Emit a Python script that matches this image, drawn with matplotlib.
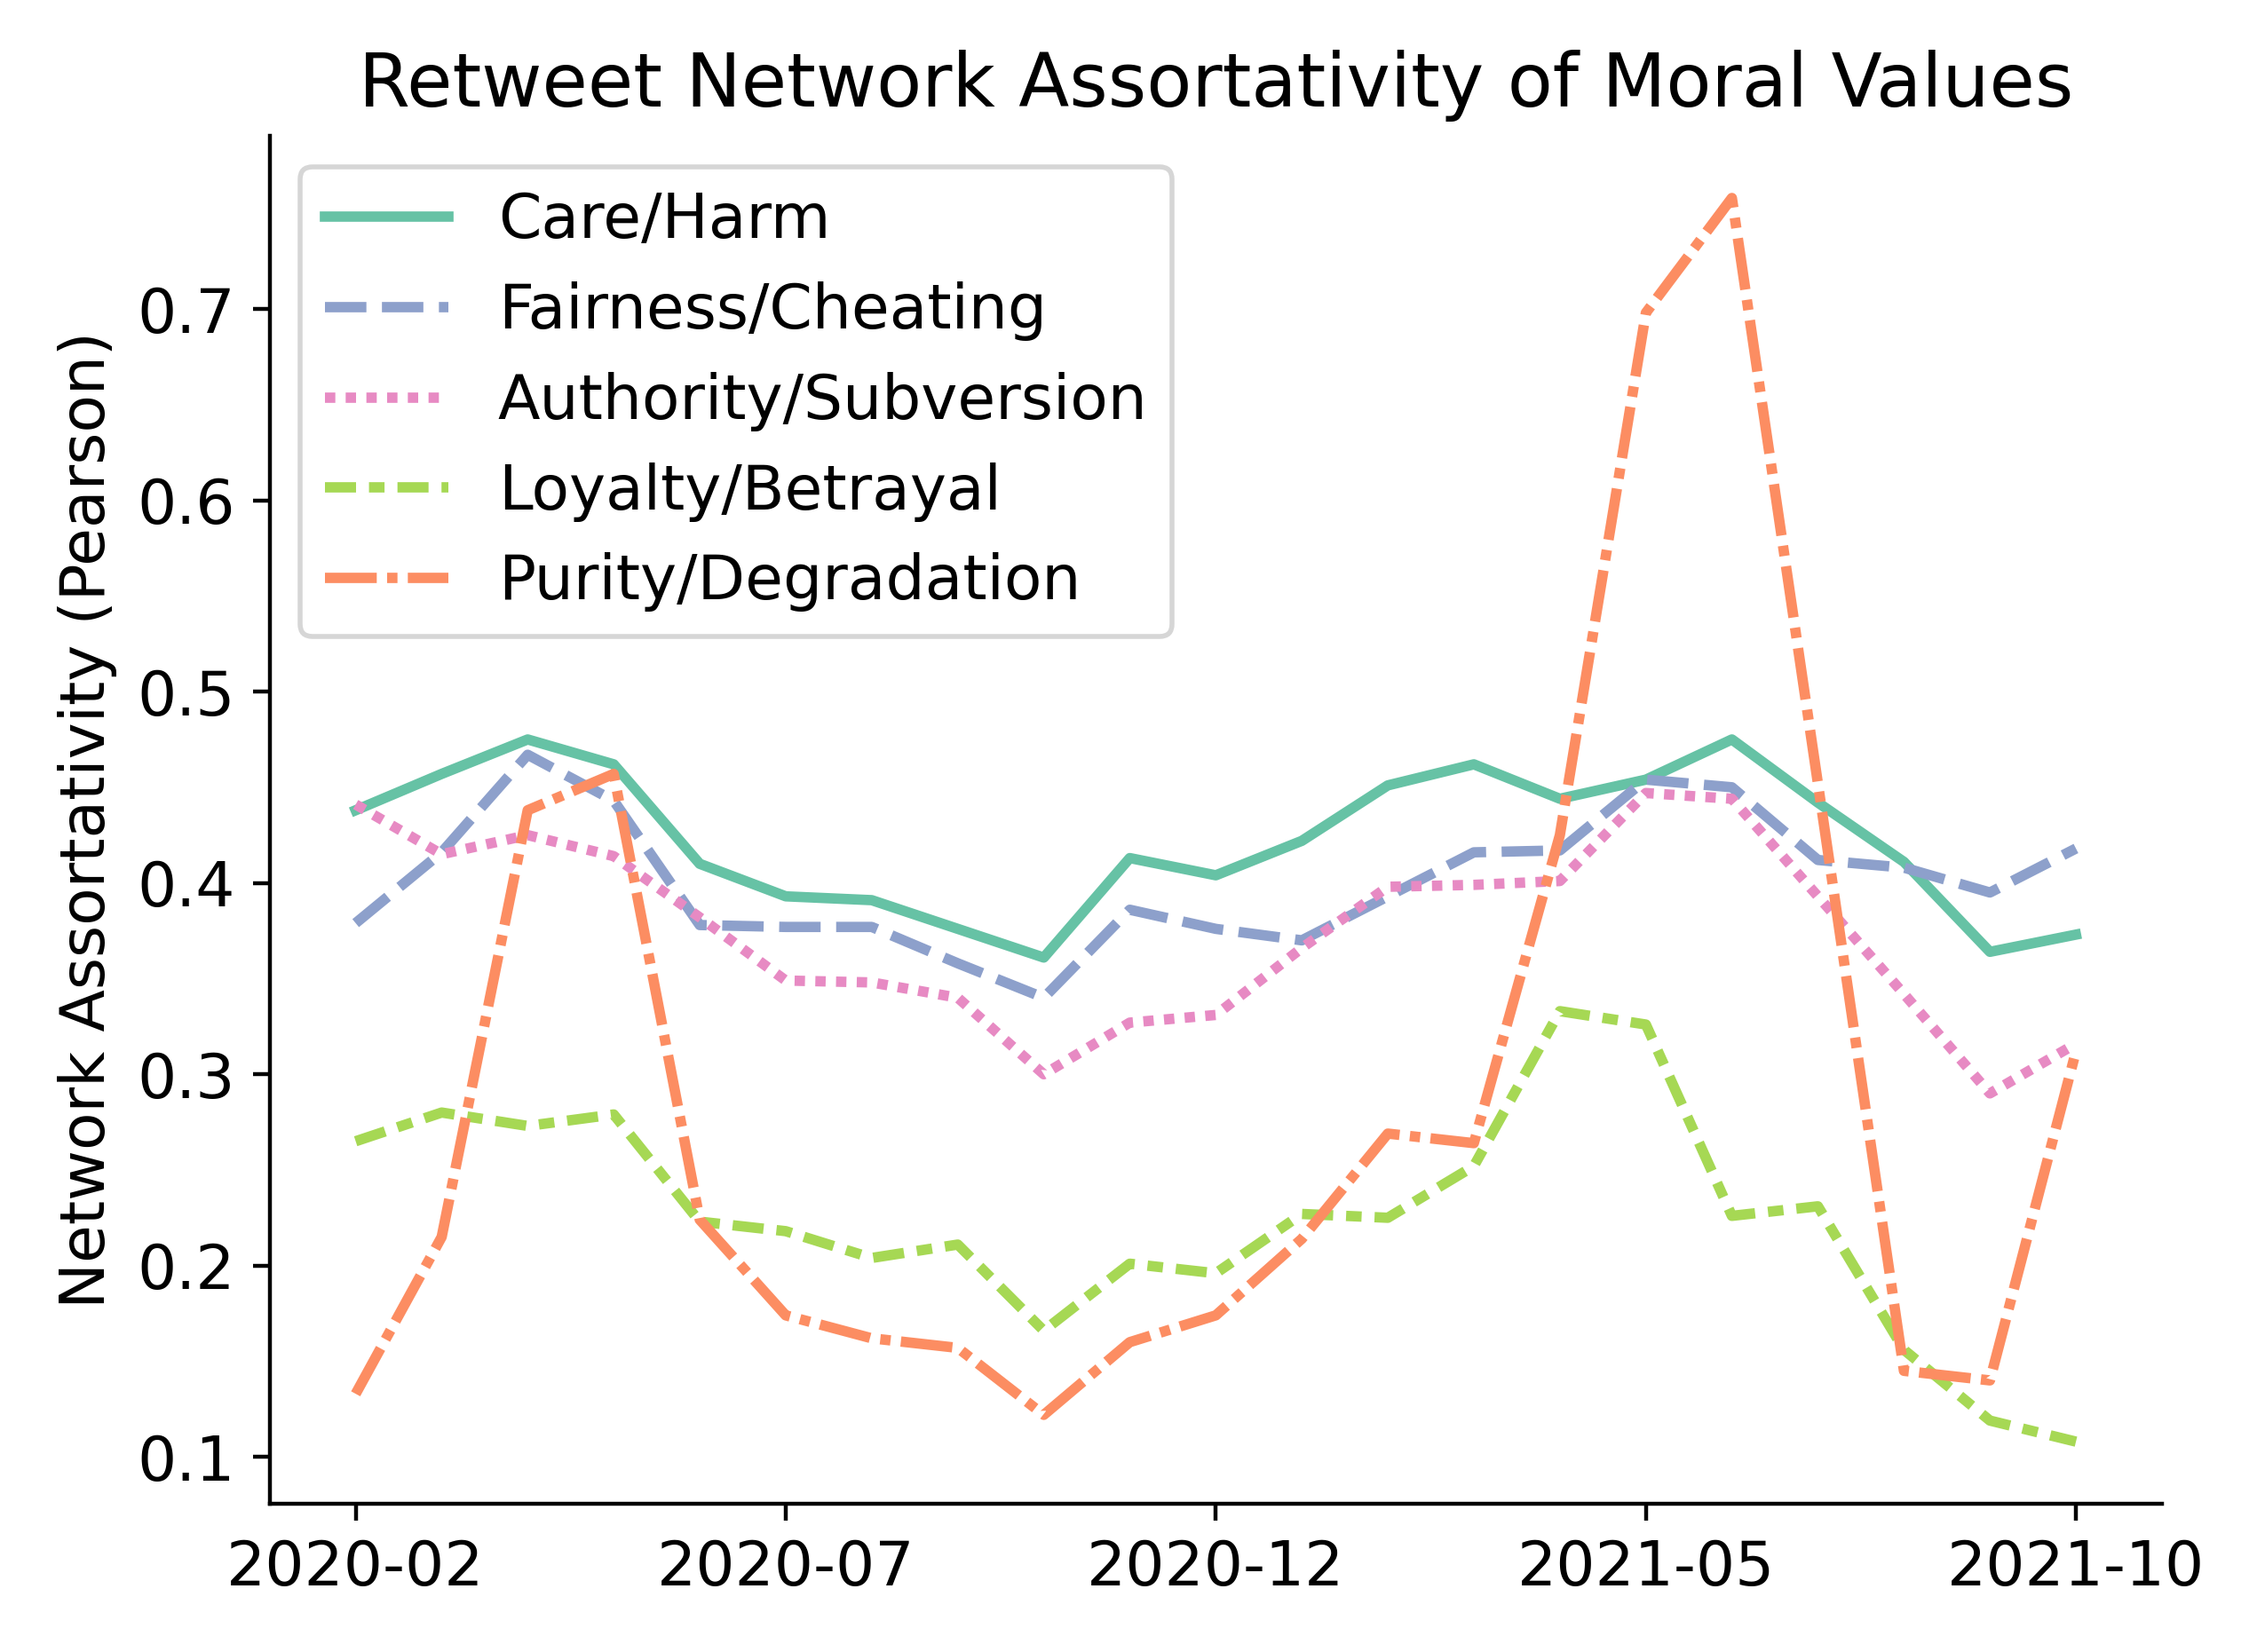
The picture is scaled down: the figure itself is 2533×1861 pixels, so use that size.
import matplotlib
matplotlib.use("Agg")
import matplotlib.pyplot as plt

# monthly retweet network assortativity, 2020-02 .. 2021-10
months = ["2020-02", "2020-03", "2020-04", "2020-05", "2020-06", "2020-07",
          "2020-08", "2020-09", "2020-10", "2020-11", "2020-12", "2021-01",
          "2021-02", "2021-03", "2021-04", "2021-05", "2021-06", "2021-07",
          "2021-08", "2021-09", "2021-10"]

care = [0.438, 0.457, 0.475, 0.462, 0.410, 0.393, 0.391, 0.376, 0.361, 0.413, 0.404,
        0.422, 0.451, 0.462, 0.444, 0.454, 0.475, 0.442, 0.411, 0.364, 0.373]
fairness = [0.379, 0.416, 0.467, 0.443, 0.378, 0.377, 0.377, 0.358, 0.340, 0.386, 0.376,
            0.370, 0.393, 0.416, 0.417, 0.454, 0.450, 0.412, 0.408, 0.395, 0.418]
authority = [0.441, 0.415, 0.425, 0.414, 0.382, 0.349, 0.348, 0.340, 0.300, 0.327, 0.331,
             0.366, 0.398, 0.399, 0.401, 0.447, 0.444, 0.393, 0.342, 0.290, 0.316]
loyalty = [0.265, 0.280, 0.273, 0.279, 0.223, 0.218, 0.204, 0.211, 0.166, 0.201, 0.196,
           0.227, 0.225, 0.252, 0.333, 0.326, 0.226, 0.231, 0.156, 0.119, 0.108]
purity = [0.133, 0.215, 0.438, 0.457, 0.224, 0.174, 0.162, 0.157, 0.122, 0.160, 0.174,
          0.214, 0.269, 0.264, 0.425, 0.698, 0.758, 0.452, 0.145, 0.140, 0.312]

names = ["Care/Harm", "Fairness/Cheating", "Authority/Subversion",
         "Loyalty/Betrayal", "Purity/Degradation"]
series = [care, fairness, authority, loyalty, purity]
colors = ["#66c2a5", "#8da0cb", "#e78ac3", "#a6d854", "#fc8d62"]
dashes = [(None, None), (4, 1.5), (1, 1), (3, 1.25, 1.5, 1.25), (5, 1, 1, 1)]

plt.rcParams["font.size"] = 12.5
plt.rcParams["axes.titlesize"] = 15.0

fig, ax = plt.subplots(figsize=(2533 / 400, 1861 / 400), dpi=400)
fig.subplots_adjust(left=0.1199, right=0.9613, bottom=0.0897, top=0.9178)

x = list(range(len(months)))
for name, vals, col, ds in zip(names, series, colors, dashes):
    line, = ax.plot(x, vals, color=col, lw=2.1, label=name)
    if ds[0] is not None:
        line.set_dashes(ds)

ax.set_xticks(x[::5])
ax.set_xticklabels(months[::5])
ax.set_yticks([0.1, 0.2, 0.3, 0.4, 0.5, 0.6, 0.7])
ax.set_ylabel("Network Assortativity (Pearson)")
ax.set_title("Retweet Network Assortativity of Moral Values")
ax.spines["top"].set_visible(False)
ax.spines["right"].set_visible(False)
ax.legend(loc="upper left")

fig.savefig("out.png", dpi=400)
